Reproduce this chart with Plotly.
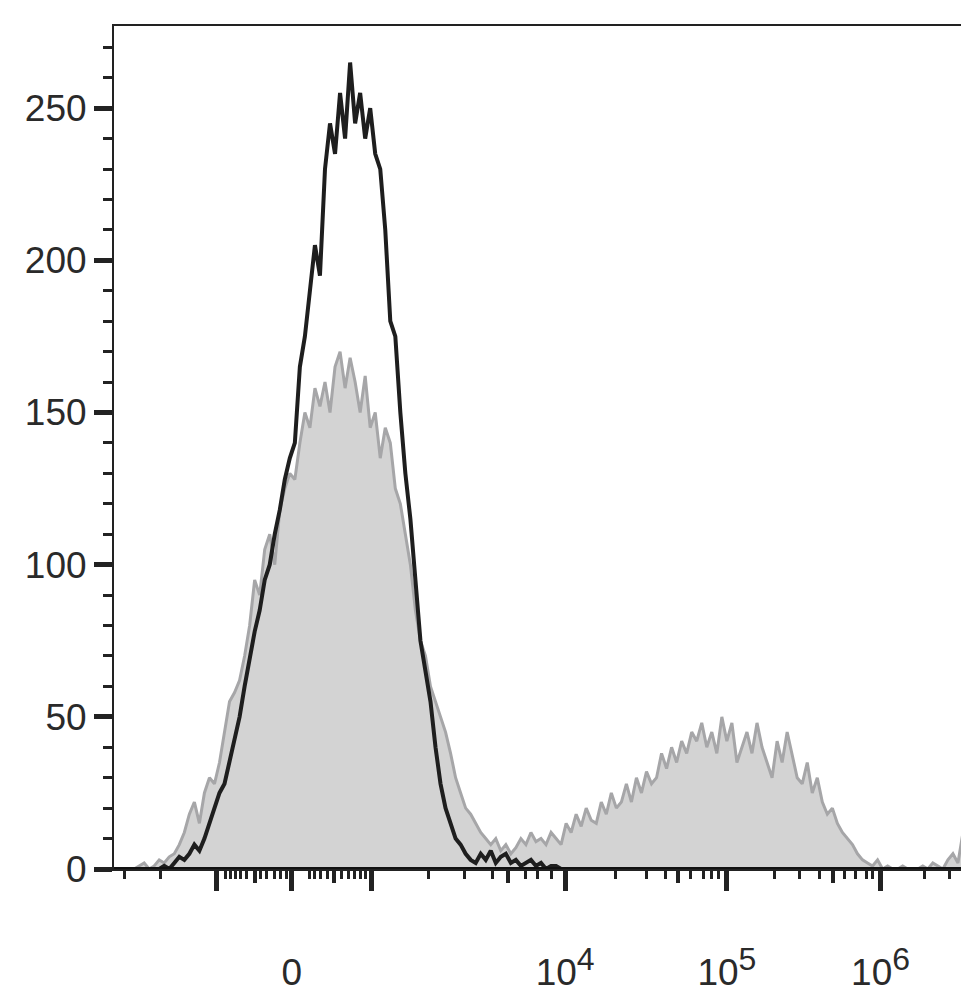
import plotly.graph_objects as go

x = list(range(0, 851, 5))
gray = [0,0,0,0,0,1, 2,0,1,3,2,4, 5,8,12,18,22,15, 25,30,28,35,45,55,
        58,62,70,80,95,90, 105,110,100,118,125,130, 128,140,150,145,158,152,
        160,150,165,170,158,168, 160,150,162,145,150,135, 145,140,125,120,110,100,
        85,75,70,60,55,50, 45,38,30,25,20,18, 15,12,10,8,10,6, 8,5,7,10,8,12,
        9,10,8,12,10,8, 15,12,18,14,20,16, 15,22,18,25,20,22, 28,22,30,25,32,28,
        30,38,33,40,35,42, 38,45,42,48,40,45, 38,50,42,48,35,40, 45,38,48,40,35,30,
        42,35,45,38,30,28, 35,25,30,22,18,20, 15,12,10,8,5,3, 2,1,3,0,1,0,
        0,1,0,0,0,1, 0,2,1,0,3,5, 2,12,15]
black = [0,0,0,0,0,0, 0,0,0,0,1,0, 2,4,3,5,8,6, 10,15,20,25,28,35,
         42,50,60,70,78,85, 95,100,110,118,128,135, 140,165,175,190,205,195,
         230,245,235,255,240,265, 245,255,240,250,235,230, 210,180,175,150,130,115,
         95,75,65,55,40,28, 20,15,10,8,5,3, 2,5,3,6,2,4, 5,2,3,1,2,3,
         1,2,0,1,1,0] + [0]*87

sup = "<sup><span style='font-size:32px'>%s</span></sup>"
major_vals = [102, 177, 256, 449, 610, 763]
major_text = ["", "0", "", "10" + sup % "4", "10" + sup % "5", "10" + sup % "6"]
medium_vals = [140, 219, 392, 561, 716]
minor_vals = [10, 46, 111, 116, 121, 126, 132, 146, 152, 160, 166, 172,
              195, 200, 206, 212, 226, 233, 239, 245, 250,
              313, 349, 377, 410, 422, 435, 499, 530, 549, 574, 587, 595, 602,
              657, 682, 702, 727, 738, 749, 755, 807, 832]
y_major = [0, 50, 100, 150, 200, 250]

font = dict(family="Liberation Sans, Arial", size=37, color="#2a2a2a")
fig = go.Figure()
fig.add_trace(go.Scatter(x=x, y=gray, mode="lines", fill="tozeroy",
                         fillcolor="#d3d3d3", line=dict(color="#a6a6a8", width=3)))
fig.add_trace(go.Scatter(x=x, y=black, mode="lines",
                         line=dict(color="#1e1e1e", width=4)))
fig.add_trace(go.Scatter(x=[0], y=[0], xaxis="x2", mode="markers",
                         marker=dict(opacity=0), hoverinfo="skip"))
fig.update_layout(
    width=969, height=992, showlegend=False,
    plot_bgcolor="white", paper_bgcolor="white",
    margin=dict(l=106, r=7, t=18, b=127),
    font=font,
    xaxis=dict(range=[0, 850], showgrid=False, zeroline=False,
               showline=True, linecolor="#222", linewidth=2, mirror=True,
               tickmode="array", tickvals=major_vals, ticktext=major_text,
               ticks="outside", ticklen=20, tickwidth=5, tickcolor="#222",
               ticklabelstandoff=50,
               minor=dict(tickmode="array", tickvals=minor_vals, ticks="outside",
                          ticklen=8, tickwidth=2.5, tickcolor="#222")),
    xaxis2=dict(range=[0, 850], overlaying="x", side="bottom", anchor="y",
                showgrid=False, zeroline=False, showline=False,
                tickmode="array", tickvals=medium_vals, ticktext=[""]*5,
                ticks="outside", ticklen=13, tickwidth=4, tickcolor="#222"),
    yaxis=dict(range=[0, 277], showgrid=False, zeroline=False,
               showline=True, linecolor="#222", linewidth=2, mirror=True,
               tickmode="array", tickvals=y_major, ticks="outside",
               ticklen=18, tickwidth=5, tickcolor="#222",
               minor=dict(dtick=10, ticks="outside", ticklen=9, tickwidth=3,
                          tickcolor="#222")),
)
fig.add_hline(y=0, line=dict(color="#111", width=4))
fig.write_html("out.html")
